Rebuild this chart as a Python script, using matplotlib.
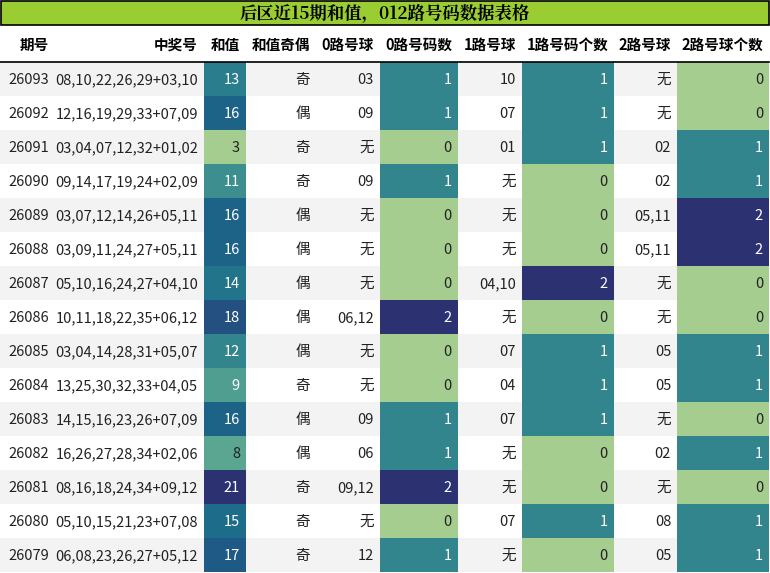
import matplotlib
matplotlib.use("Agg")
import matplotlib.pyplot as plt
from matplotlib.patches import Rectangle
import seaborn as sns

plt.rcParams['font.family'] = ['Noto Sans CJK SC', 'DejaVu Sans']

title = "后区近15期和值，012路号码数据表格"
headers = ["期号", "中奖号", "和值", "和值奇偶", "0路号球", "0路号码数", "1路号球", "1路号码个数", "2路号球", "2路号球个数"]
issues = ["26093", "26092", "26091", "26090", "26089", "26088", "26087", "26086",
          "26085", "26084", "26083", "26082", "26081", "26080", "26079"]
numbers = ["08,10,22,26,29+03,10", "12,16,19,29,33+07,09", "03,04,07,12,32+01,02",
           "09,14,17,19,24+02,09", "03,07,12,14,26+05,11", "03,09,11,24,27+05,11",
           "05,10,16,24,27+04,10", "10,11,18,22,35+06,12", "03,04,14,28,31+05,07",
           "13,25,30,32,33+04,05", "14,15,16,23,26+07,09", "16,26,27,28,34+02,06",
           "08,16,18,24,34+09,12", "05,10,15,21,23+07,08", "06,08,23,26,27+05,12"]
sums = [13, 16, 3, 11, 16, 16, 14, 18, 12, 9, 16, 8, 21, 15, 17]
parity = ["奇", "偶", "奇", "奇", "偶", "偶", "偶", "偶", "偶", "奇", "偶", "偶", "奇", "奇", "奇"]
r0_balls = ["03", "09", "无", "09", "无", "无", "无", "06,12", "无", "无", "09", "06", "09,12", "无", "12"]
r0_cnt = [1, 1, 0, 1, 0, 0, 0, 2, 0, 0, 1, 1, 2, 0, 1]
r1_balls = ["10", "07", "01", "无", "无", "无", "04,10", "无", "07", "04", "07", "无", "无", "07", "无"]
r1_cnt = [1, 1, 1, 0, 0, 0, 2, 0, 1, 1, 1, 0, 0, 1, 0]
r2_balls = ["无", "无", "02", "02", "05,11", "05,11", "无", "无", "05", "05", "无", "02", "无", "08", "05"]
r2_cnt = [0, 0, 1, 1, 2, 2, 0, 0, 1, 1, 0, 1, 0, 1, 1]

col_edges = [0, 55, 204, 246, 316, 380, 458, 522, 614, 677, 769]
W, H = 770, 573
cmap = sns.color_palette("crest", as_cmap=True)

fig = plt.figure(figsize=(W / 100, H / 100), dpi=100)
ax = fig.add_axes([0, 0, 1, 1])
ax.set_xlim(0, W)
ax.set_ylim(H, 0)
ax.axis("off")

# title bar
ax.add_patch(Rectangle((1, 1), 768, 24, facecolor="#9acd32", edgecolor="black", lw=1.2))
ax.text(385, 13.5, title, ha="center", va="center", fontsize=12.5, fontweight="bold",
        family=["Noto Serif CJK SC", "Noto Sans CJK SC", "DejaVu Sans"])

# header
hy = 45
for i, h in enumerate(headers):
    ax.text(col_edges[i + 1] - 6, hy, h, ha="right", va="center", fontsize=10.5, fontweight="bold")
ax.plot([0, 769], [62, 62], color="black", lw=1.2)

row_h = 34
heat_cols = {2: (sums, 3, 21), 5: (r0_cnt, 0, 2), 7: (r1_cnt, 0, 2), 9: (r2_cnt, 0, 2)}
for r in range(len(issues)):
    y0 = 62 + r * row_h
    if r % 2 == 0:
        ax.add_patch(Rectangle((0, y0), 769, row_h, facecolor="#f3f3f3", lw=0))
    vals = [issues[r], numbers[r], str(sums[r]), parity[r], r0_balls[r], str(r0_cnt[r]),
            r1_balls[r], str(r1_cnt[r]), r2_balls[r], str(r2_cnt[r])]
    for c, v in enumerate(vals):
        color = "#222222"
        if c in heat_cols:
            data, lo, hi = heat_cols[c]
            ax.add_patch(Rectangle((col_edges[c], y0), col_edges[c + 1] - col_edges[c], row_h,
                                   facecolor=cmap((data[r] - lo) / (hi - lo)), lw=0))
            color = "white" if (data[r] - lo) / (hi - lo) > 0.3 else "#222222"
        ax.text(col_edges[c + 1] - 6, y0 + row_h / 2 + 1, v, ha="right", va="center",
                fontsize=10.5, color=color)

fig.savefig("out.png", dpi=100)
